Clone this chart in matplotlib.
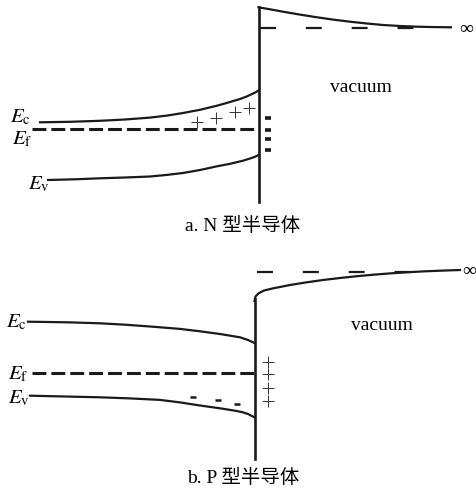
import matplotlib
matplotlib.use('Agg')
import matplotlib.pyplot as plt

# all coordinates are in picture pixels (x right, y down)

# --- a. N-type ---
n_surface_x = 258.5
n_surface_y = [8, 203]
n_vac_x = [258.5, 270, 283, 300, 317, 333, 350, 367, 383, 400, 417, 435, 451]
n_vac_y = [8.3, 10.3, 12.7, 15.6, 18.3, 20.6, 22.7, 24.5, 26, 27, 27.7, 28.1, 28.3]
n_vac_dash_x = [260, 415]
n_vac_dash_y = 28.5
n_ec_x = [40, 70, 100, 125, 150, 167, 183, 200, 217, 228, 240, 246, 251, 255, 258.5]
n_ec_y = [123.3, 122.8, 121.8, 120.5, 118.6, 116.6, 114, 110.8, 106.7, 103.6, 100, 97.8, 95.5, 93.6, 91.5]
n_ef_x = [32, 258.5]
n_ef_y = 130
n_ev_x = [48, 75, 100, 125, 150, 167, 183, 200, 217, 230, 243, 250, 255, 258.5]
n_ev_y = [181, 180.3, 179.3, 178.5, 177.5, 175.9, 174, 171, 167.3, 164.8, 161.7, 159.5, 157.8, 156]
n_plus_x = [196.7, 216, 235, 249]
n_plus_y = [122.7, 119.3, 113.3, 109.3]
n_states_x = [268, 268, 268, 268]
n_states_y = [119.3, 130.7, 140, 150.7]

# --- b. P-type ---
p_surface_x = 254.5
p_surface_y = [300, 460]
p_vac_x = [254.5, 255.5, 258.3, 264, 273.3, 290, 306.7, 323, 340, 357, 373.3, 390, 406.7, 423, 440, 460]
p_vac_y = [302, 297.5, 294.5, 291.5, 289.3, 286, 283.3, 281, 279, 277.2, 275.7, 274.4, 273.3, 272.4, 271.7, 271]
p_vac_dash_x = [257, 415]
p_vac_dash_y = 273.3
p_ec_x = [28, 67, 100, 125, 150, 180, 200, 220, 240, 248, 254.5]
p_ec_y = [322.7, 323.3, 324.3, 325.7, 327.5, 329.9, 332.3, 335, 338.3, 341, 344]
p_ef_x = [32, 254.5]
p_ef_y = 374
p_ev_x = [30, 100, 130, 160, 180, 200, 220, 235, 242, 248, 254.5]
p_ev_y = [396.7, 398.3, 399.4, 400.9, 403.4, 406.5, 409.3, 411.7, 413.1, 415, 418.3]
p_minus_x = [193, 218, 237]
p_minus_y = [397.5, 401, 405]
p_plus_x = [268, 268, 268, 268]
p_plus_y = [363.3, 375, 389.3, 401.7]

plt.rcParams['mathtext.fontset'] = 'stix'
plt.rcParams['lines.scale_dashes'] = False
plt.rcParams['font.family'] = ['Liberation Serif', 'Noto Sans CJK SC']

fig = plt.figure(figsize=(4.76, 4.89), dpi=100)
ax = fig.add_axes([0, 0, 1, 1])
ax.set_xlim(0, 476)
ax.set_ylim(489, 0)
ax.axis('off')

k = '#1a1a1a'
lw_band = 1.6

# N-type panel
ax.plot([n_surface_x, n_surface_x], n_surface_y, color=k, lw=1.9)
ax.plot(n_vac_x, n_vac_y, color=k, lw=lw_band)
ax.plot(n_vac_dash_x, [n_vac_dash_y] * 2, color=k, lw=1.6, dashes=(11.5, 21.5))
ax.plot(n_ec_x, n_ec_y, color=k, lw=lw_band)
ax.plot(n_ef_x, [n_ef_y] * 2, color=k, lw=2.2, dashes=(10, 3.6))
ax.plot(n_ev_x, n_ev_y, color=k, lw=lw_band)
ax.plot(n_plus_x, n_plus_y, ls='none', marker='+', ms=8, mew=0.7, color='#333333')
ax.plot(n_states_x, n_states_y, ls='none', marker='_', ms=5, mew=2.6, color=k)
ax.text(466, 29, '∞', fontsize=14, ha='center', va='center')
ax.text(361, 87, 'vacuum', fontsize=14, ha='center', va='center')
ax.text(10, 122, r'$E_\mathrm{c}$', fontsize=15, ha='left', va='baseline')
ax.text(12, 144, r'$E_\mathrm{f}$', fontsize=15, ha='left', va='baseline')
ax.text(28, 189, r'$E_\mathrm{v}$', fontsize=15, ha='left', va='baseline')
ax.text(243, 226, 'a. N 型半导体', fontsize=14, ha='center', va='center')

# P-type panel
ax.plot([p_surface_x, p_surface_x], p_surface_y, color=k, lw=1.9)
ax.plot(p_vac_x, p_vac_y, color=k, lw=lw_band)
ax.plot(p_vac_dash_x, [p_vac_dash_y] * 2, color=k, lw=1.6, dashes=(11.5, 21.5))
ax.plot(p_ec_x, p_ec_y, color=k, lw=lw_band)
ax.plot(p_ef_x, [p_ef_y] * 2, color=k, lw=2.2, dashes=(10, 3.6))
ax.plot(p_ev_x, p_ev_y, color=k, lw=lw_band)
ax.plot(p_minus_x, p_minus_y, ls='none', marker='_', ms=5, mew=1.8, color=k)
ax.plot(p_plus_x, p_plus_y, ls='none', marker='+', ms=8, mew=0.7, color='#333333')
ax.text(469, 272, '∞', fontsize=14, ha='center', va='center')
ax.text(382, 326, 'vacuum', fontsize=14, ha='center', va='center')
ax.text(6, 327, r'$E_\mathrm{c}$', fontsize=15, ha='left', va='baseline')
ax.text(8, 379, r'$E_\mathrm{f}$', fontsize=15, ha='left', va='baseline')
ax.text(8, 403, r'$E_\mathrm{v}$', fontsize=15, ha='left', va='baseline')
ax.text(243, 478, 'b. P 型半导体', fontsize=14, ha='center', va='center')

fig.savefig('out.png', dpi=100)
